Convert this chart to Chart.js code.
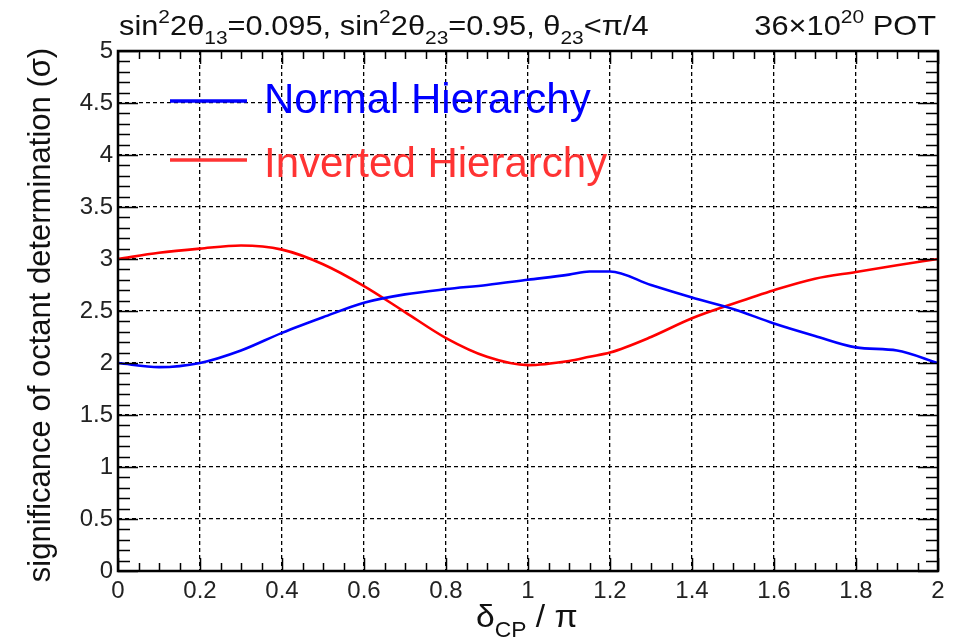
<!DOCTYPE html>
<html>
<head>
<meta charset="utf-8">
<script src="https://cdn.jsdelivr.net/npm/chart.js@4.4.1/dist/chart.umd.min.js"></script>
<style>
  html, body { margin: 0; padding: 0; background: #fff; }
  #wrap { width: 959px; height: 642px; }
</style>
</head>
<body>
<div id="wrap"><canvas id="octantChart" width="959" height="642"></canvas></div>
<script>
// delta_CP / pi sample points
var deltaCP = [0, 0.1, 0.2, 0.3, 0.4, 0.5, 0.6, 0.7, 0.8, 0.9, 1.0, 1.1, 1.15, 1.2, 1.3, 1.4, 1.5, 1.6, 1.7, 1.8, 1.9, 2.0];
// significance (sigma), normal hierarchy
var normalSig = [2.00, 1.96, 2.00, 2.12, 2.29, 2.44, 2.58, 2.66, 2.71, 2.75, 2.80, 2.85, 2.88, 2.88, 2.75, 2.63, 2.52, 2.38, 2.26, 2.15, 2.12, 2.00];
// significance (sigma), inverted hierarchy
var invertedSig = [3.00, 3.06, 3.10, 3.13, 3.09, 2.95, 2.74, 2.49, 2.24, 2.06, 1.98, 2.02, 2.06, 2.10, 2.25, 2.43, 2.57, 2.70, 2.81, 2.875, 2.94, 3.00];

var seriesNames = ["Normal Hierarchy", "Inverted Hierarchy"];
var seriesColors = ["#0000ff", "#ff0000"];
var legendColors = ["#0000ff", "#ff3333"];

var FONT = "'Liberation Sans', Arial, Helvetica, sans-serif";

function toPoints(xs, ys) {
  var pts = [];
  for (var i = 0; i < xs.length; i++) {
    pts.push({ x: xs[i], y: ys[i] });
  }
  return pts;
}

// draw text made of pieces with super/subscripts, stretched by sx
function drawRich(ctx, parts, x, y, size, align, color, sx) {
  var small = size * 0.68;
  var total = 0;
  parts.forEach(function (p) {
    ctx.font = (p[1] ? small : size) + "px " + FONT;
    total += ctx.measureText(p[0]).width;
  });
  ctx.save();
  ctx.translate(x, y);
  ctx.scale(sx, 1);
  var cx = align === "right" ? -total : 0;
  ctx.fillStyle = color;
  ctx.textAlign = "left";
  ctx.textBaseline = "alphabetic";
  parts.forEach(function (p) {
    var dy = 0;
    if (p[1] === 1) dy = -size * 0.42;
    if (p[1] === -1) dy = size * 0.32;
    ctx.font = (p[1] ? small : size) + "px " + FONT;
    ctx.fillText(p[0], cx, dy);
    cx += ctx.measureText(p[0]).width;
  });
  ctx.restore();
}

var decor = {
  id: "decor",
  afterDraw: function (chart) {
    var ctx = chart.ctx;
    var a = chart.chartArea;
    var xs = chart.scales.x;
    var ys = chart.scales.y;
    ctx.save();

    // inner tick marks on all four sides
    ctx.strokeStyle = "#000";
    ctx.lineWidth = 1.5;
    ctx.setLineDash([]);
    ctx.beginPath();
    var v, px, len;
    for (var i = 0; i <= 50; i++) {
      v = i * 0.1;
      px = Math.round(ys.getPixelForValue(v)) + 0.5;
      len = (i % 5 === 0) ? 20 : 12;
      ctx.moveTo(a.left, px); ctx.lineTo(a.left + len, px);
      ctx.moveTo(a.right, px); ctx.lineTo(a.right - len, px);
    }
    for (var j = 0; j <= 40; j++) {
      v = j * 0.05;
      px = Math.round(xs.getPixelForValue(v)) + 0.5;
      len = (j % 4 === 0) ? 13 : 8;
      ctx.moveTo(px, a.bottom); ctx.lineTo(px, a.bottom - len);
      ctx.moveTo(px, a.top); ctx.lineTo(px, a.top + len);
    }
    ctx.stroke();

    // frame
    ctx.lineWidth = 2.5;
    ctx.strokeRect(a.left, a.top, a.right - a.left, a.bottom - a.top);

    // legend
    var ly = [101, 160];
    var ty = [113, 177];
    for (var k = 0; k < 2; k++) {
      ctx.strokeStyle = legendColors[k];
      ctx.lineWidth = 3.5;
      ctx.beginPath();
      ctx.moveTo(170, ly[k]);
      ctx.lineTo(247, ly[k]);
      ctx.stroke();
      ctx.fillStyle = legendColors[k];
      ctx.font = "42px " + FONT;
      ctx.textAlign = "left";
      ctx.textBaseline = "alphabetic";
      ctx.fillText(seriesNames[k], 264, ty[k]);
    }

    // header texts
    drawRich(ctx, [["sin", 0], ["2", 1], ["2\u03b8", 0], ["13", -1], ["=0.095, sin", 0], ["2", 1], ["2\u03b8", 0], ["23", -1], ["=0.95, \u03b8", 0], ["23", -1], ["<\u03c0/4", 0]], 119, 35, 28, "left", "#111", 1.1);
    drawRich(ctx, [["36\u00d710", 0], ["20", 1], [" POT", 0]], 936, 35, 28, "right", "#111", 1.1);

    // x axis title
    drawRich(ctx, [["\u03b4", 0], ["CP", -1], [" / \u03c0", 0]], 476, 627, 32, "left", "#111", 1.05);

    // y axis title
    ctx.translate(41, 315);
    ctx.rotate(-Math.PI / 2);
    ctx.font = "31px " + FONT;
    ctx.fillStyle = "#111";
    ctx.textAlign = "center";
    ctx.textBaseline = "middle";
    ctx.fillText("significance of octant determination (\u03c3)", 0, 0);
    ctx.restore();
  }
};

var ctx = document.getElementById("octantChart").getContext("2d");
var chart = new Chart(ctx, {
  type: "line",
  data: {
    datasets: [{
      label: seriesNames[0],
      data: toPoints(deltaCP, normalSig),
      borderColor: seriesColors[0],
      borderWidth: 2.6,
      pointRadius: 0,
      fill: false,
      cubicInterpolationMode: "monotone"
    }, {
      label: seriesNames[1],
      data: toPoints(deltaCP, invertedSig),
      borderColor: seriesColors[1],
      borderWidth: 2.6,
      pointRadius: 0,
      fill: false,
      cubicInterpolationMode: "monotone"
    }]
  },
  options: {
    responsive: false,
    animation: false,
    layout: { padding: { top: 51, right: 21, left: 0, bottom: 0 } },
    plugins: { legend: { display: false }, tooltip: { enabled: false } },
    scales: {
      x: {
        type: "linear",
        min: 0,
        max: 2,
        afterFit: function (s) { s.height = 71; },
        ticks: {
          stepSize: 0.2,
          padding: 6,
          color: "#222",
          font: { size: 24, family: FONT },
          maxRotation: 0,
          callback: function (v) { return String(Number(v.toFixed(1))); }
        },
        grid: { color: "#000", lineWidth: 1.3, drawTicks: false },
        border: { display: false, dash: [4, 3] }
      },
      y: {
        min: 0,
        max: 5,
        afterFit: function (s) { s.width = 118; },
        ticks: {
          stepSize: 0.5,
          padding: 5,
          color: "#222",
          font: { size: 24, family: FONT },
          callback: function (v) { return String(Number(v.toFixed(1))); }
        },
        grid: { color: "#000", lineWidth: 1.3, drawTicks: false },
        border: { display: false, dash: [4, 3] }
      }
    }
  },
  plugins: [decor]
});
</script>
</body>
</html>
